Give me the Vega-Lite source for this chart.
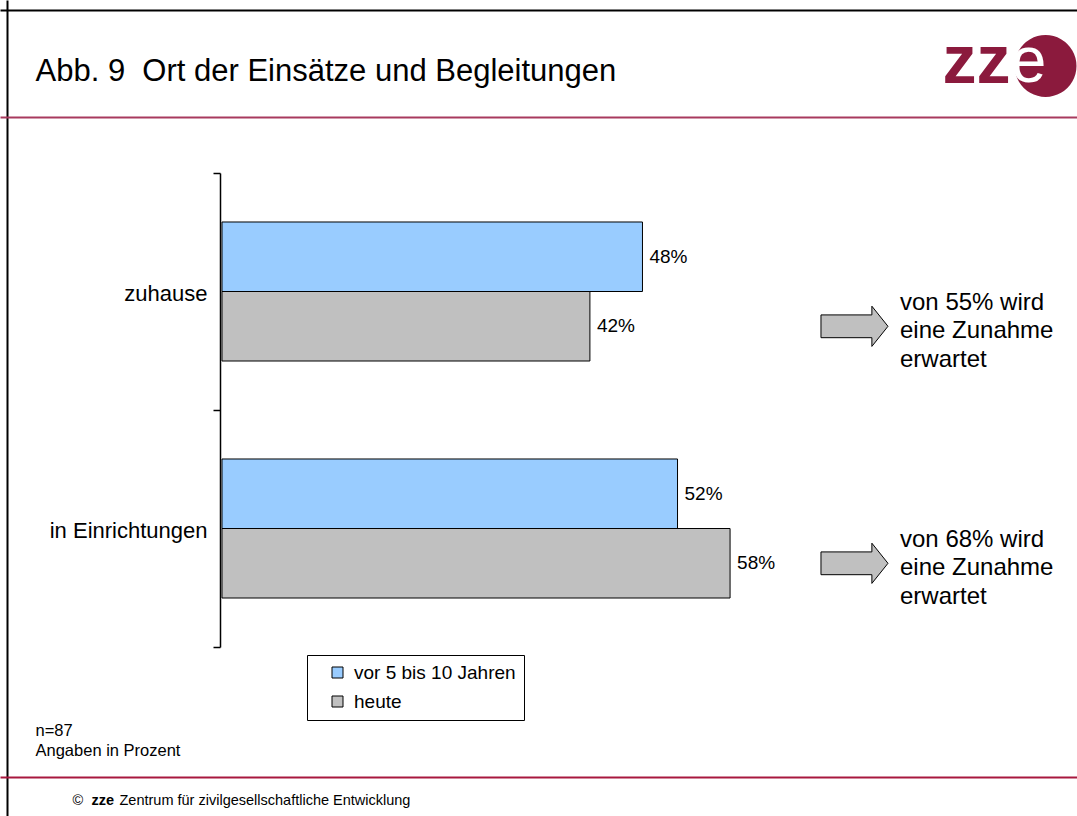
{
  "$schema": "https://vega.github.io/schema/vega-lite/v6.json",
  "width": 1077,
  "height": 816,
  "autosize": {"type": "none"},
  "padding": 0,
  "background": "white",
  "config": {"font": "Liberation Sans", "view": {"stroke": null}},
  "datasets": {
    "werte": [
      {"Ort": "zuhause", "Zeitpunkt": "vor 5 bis 10 Jahren", "Anteil": 0.48},
      {"Ort": "zuhause", "Zeitpunkt": "heute", "Anteil": 0.42},
      {"Ort": "in Einrichtungen", "Zeitpunkt": "vor 5 bis 10 Jahren", "Anteil": 0.52},
      {"Ort": "in Einrichtungen", "Zeitpunkt": "heute", "Anteil": 0.58}
    ],
    "erwartung": [
      {"Ort": "zuhause", "Zeitpunkt": "heute", "Erwartung": "von 55% wird\neine Zunahme\nerwartet"},
      {"Ort": "in Einrichtungen", "Zeitpunkt": "heute", "Erwartung": "von 68% wird\neine Zunahme\nerwartet"}
    ]
  },
  "resolve": {
    "scale": {"y": "independent"},
    "axis": {"x": "independent", "y": "independent"}
  },
  "layer": [
    {
      "data": {"name": "werte"},
      "mark": {"type": "bar", "stroke": "black", "strokeWidth": 1},
      "encoding": {
        "x": {
          "field": "Anteil", "type": "quantitative",
          "scale": {"domain": [-0.25342, 0.97603], "nice": false, "zero": false},
          "axis": {
            "orient": "bottom", "offset": -39, "domainColor": "#A8183F", "domainWidth": 2,
            "ticks": false, "labels": false, "grid": false,
            "title": "Zentrum für zivilgesellschaftliche Entwicklung",
            "titleX": 119, "titleY": 27, "titleAlign": "left", "titleBaseline": "alphabetic",
            "titleFontSize": 14.5, "titleFontWeight": "normal", "titleColor": "black"
          }
        },
        "y": {
          "field": "Ort", "type": "nominal",
          "scale": {"domain": ["zuhause", "in Einrichtungen"], "range": [173, 647], "paddingInner": 0, "paddingOuter": 0},
          "axis": {
            "orient": "left", "offset": -220, "tickBand": "extent",
            "domainColor": "black", "domainWidth": 1.5, "tickColor": "black", "tickWidth": 1.5, "tickSize": 7,
            "labelFontSize": 22, "labelColor": "black", "labelPadding": 6, "labelLimit": 300, "labelOffset": 2,
            "title": "Abb. 9\u00a0 Ort der Einsätze und Begleitungen",
            "titleX": -185, "titleY": 80, "titleAngle": 0, "titleAlign": "left", "titleBaseline": "alphabetic",
            "titleFontSize": 31, "titleFontWeight": "normal", "titleColor": "black"
          }
        },
        "yOffset": {
          "field": "Zeitpunkt", "type": "nominal",
          "scale": {"domain": ["vor 5 bis 10 Jahren", "heute"], "paddingInner": 0, "paddingOuter": 0.705}
        },
        "color": {
          "field": "Zeitpunkt", "type": "nominal",
          "scale": {"domain": ["vor 5 bis 10 Jahren", "heute"], "range": ["#99CCFF", "#C0C0C0"]},
          "legend": {
            "orient": "none", "legendX": 307, "legendY": 655, "title": null, "direction": "vertical",
            "strokeColor": "black", "fillColor": "white", "padding": 8,
            "symbolType": "square", "symbolSize": 121, "symbolStrokeColor": "black", "symbolStrokeWidth": 1,
            "symbolOpacity": 1, "symbolOffset": 13,
            "labelFontSize": 19, "labelColor": "black", "labelOffset": 7, "rowPadding": 9, "labelLimit": 400
          }
        }
      }
    },
    {
      "data": {"name": "werte"},
      "mark": {"type": "text", "align": "left", "baseline": "middle", "dx": 7, "fontSize": 19, "color": "black"},
      "encoding": {
        "x": {
          "field": "Anteil", "type": "quantitative",
          "scale": {"domain": [-0.25342, 0.97603], "nice": false, "zero": false},
          "axis": {
            "orient": "top", "offset": -117, "domainColor": "#A83A5E", "domainWidth": 2,
            "ticks": false, "tickSize": 0, "grid": false,
            "values": [0.8607, 0.9395, 0.9406],
            "labelExpr": "datum.value < 0.9 ? 'zz' : datum.value < 0.94 ? '●' : 'e'",
            "labelFontSize": {"condition": [{"test": "datum.value < 0.9", "value": 68}, {"test": "datum.value < 0.94", "value": 81}], "value": 64},
            "labelColor": {"condition": {"test": "datum.value > 0.94", "value": "white"}, "value": "#8B1A3D"},
            "labelFontWeight": {"condition": {"test": "datum.value < 0.9", "value": "bold"}, "value": "normal"},
            "labelFont": {"condition": {"test": "datum.value > 0.9 && datum.value < 0.94", "value": "DejaVu Sans"}, "value": "Liberation Sans"},
            "labelAlign": {"condition": {"test": "datum.value > 0.94", "value": "right"}, "value": "center"},
            "labelBaseline": "middle", "labelPadding": 55,
            "labelOverlap": false, "labelFlush": false, "labelBound": false,
            "title": ["n=87", "Angaben in Prozent"],
            "titleX": 35, "titleY": 618, "titleAlign": "left", "titleBaseline": "alphabetic",
            "titleFontSize": 16.5, "titleFontWeight": "normal", "titleLineHeight": 20, "titleColor": "black"
          }
        },
        "y": {
          "field": "Ort", "type": "nominal", "axis": null,
          "scale": {"domain": ["zuhause", "in Einrichtungen"], "range": [173, 647], "paddingInner": 0, "paddingOuter": 0}
        },
        "yOffset": {
          "field": "Zeitpunkt", "type": "nominal",
          "scale": {"domain": ["vor 5 bis 10 Jahren", "heute"], "paddingInner": 0, "paddingOuter": 0.705}
        },
        "text": {"field": "Anteil", "type": "quantitative", "format": ".0%"}
      }
    },
    {
      "data": {"name": "erwartung"},
      "mark": {
        "type": "point",
        "shape": "M-1,-0.34L0.52,-0.34L0.52,-0.6L1,0L0.52,0.6L0.52,0.34L-1,0.34Z",
        "size": 4489, "filled": true, "fill": "#C0C0C0", "stroke": "black", "strokeWidth": 1,
        "opacity": 1, "fillOpacity": 1
      },
      "encoding": {
        "x": {
          "datum": 0.722, "type": "quantitative",
          "scale": {"domain": [-0.25342, 0.97603], "nice": false, "zero": false},
          "axis": {
            "orient": "top", "offset": -10, "domainColor": "black", "domainWidth": 2,
            "ticks": false, "labels": false,
            "grid": true, "gridColor": "black", "gridWidth": 2, "gridOpacity": 1, "values": [-0.24543],
            "title": "zze", "titleX": 91, "titleY": 794, "titleAlign": "left", "titleBaseline": "alphabetic",
            "titleFontSize": 14.5, "titleFontWeight": "bold", "titleColor": "black"
          }
        },
        "y": {
          "field": "Ort", "type": "nominal", "axis": null,
          "scale": {"domain": ["zuhause", "in Einrichtungen"], "paddingInner": 0, "paddingOuter": 0.7215, "align": 0.506}
        },
        "yOffset": {
          "field": "Zeitpunkt", "type": "nominal",
          "scale": {"domain": ["vor 5 bis 10 Jahren", "heute"], "paddingInner": 0, "paddingOuter": 0.705}
        }
      }
    },
    {
      "data": {"name": "erwartung"},
      "mark": {"type": "text", "align": "left", "baseline": "middle", "lineBreak": "\n", "fontSize": 24, "lineHeight": 28.5, "dy": -23.5, "color": "black"},
      "encoding": {
        "x": {
          "datum": 0.774, "type": "quantitative",
          "scale": {"domain": [-0.25342, 0.97603], "nice": false, "zero": false},
          "axis": {
            "orient": "top", "domain": false, "ticks": false, "labels": false, "grid": false,
            "title": "©", "titleX": 72, "titleY": 804, "titleAlign": "left", "titleBaseline": "alphabetic",
            "titleFontSize": 14.5, "titleFontWeight": "normal", "titleColor": "black"
          }
        },
        "y": {
          "field": "Ort", "type": "nominal", "axis": null,
          "scale": {"domain": ["zuhause", "in Einrichtungen"], "paddingInner": 0, "paddingOuter": 0.7215, "align": 0.506}
        },
        "yOffset": {
          "field": "Zeitpunkt", "type": "nominal",
          "scale": {"domain": ["vor 5 bis 10 Jahren", "heute"], "paddingInner": 0, "paddingOuter": 0.705}
        },
        "text": {"field": "Erwartung", "type": "nominal"}
      }
    }
  ]
}
